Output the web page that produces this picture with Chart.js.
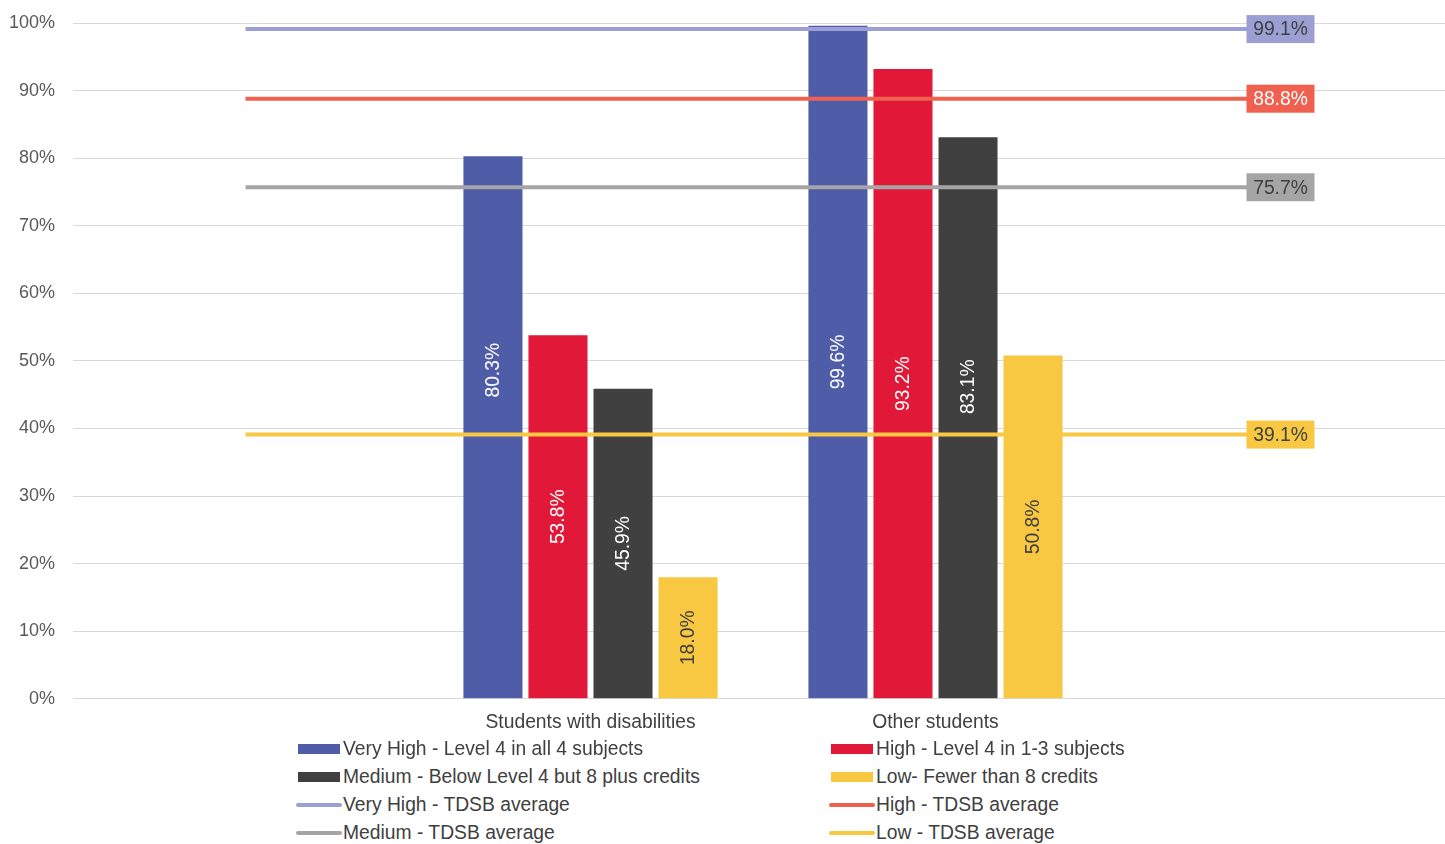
<!DOCTYPE html>
<html>
<head>
<meta charset="utf-8">
<script src="https://cdn.jsdelivr.net/npm/chart.js@4.4.1/dist/chart.umd.min.js"></script>
<style>
  html, body { margin: 0; padding: 0; background: #fff; overflow: hidden; }
  #wrap { position: relative; width: 1460px; height: 844px; }
  #achievementChart { position: absolute; left: 0; top: 0; }
  .legend-item { position: absolute; height: 20px; display: flex; align-items: center;
    font: 19.3px "Liberation Sans", Arial, sans-serif; color: #404040; white-space: nowrap; }
  .legend-item .sw { display: inline-block; margin-right: 3px; }
</style>
</head>
<body>
<div id="wrap">
  <canvas id="achievementChart" width="1453" height="746"></canvas>
  <div id="legend"></div>
</div>
<script>
// categories (outer two are empty so the average lines run past the bar groups)
const categories = ['', 'Students with disabilities', 'Other students', ''];

// bar series (percent)
const veryHigh = [null, 80.3, 99.6, null];
const high = [null, 53.8, 93.2, null];
const medium = [null, 45.9, 83.1, null];
const low = [null, 18.0, 50.8, null];

// TDSB averages (percent)
const veryHighAvg = [99.1, 99.1, 99.1, 99.1];
const highAvg = [88.8, 88.8, 88.8, 88.8];
const mediumAvg = [75.7, 75.7, 75.7, 75.7];
const lowAvg = [39.1, 39.1, 39.1, 39.1];

const yTicks = [0, 10, 20, 30, 40, 50, 60, 70, 80, 90, 100];

const FONT = '"Liberation Sans", Arial, sans-serif';

const barColors = ['#4F5CA8', '#E11837', '#404040', '#F8C842'];
const lineColors = ['#9C9FD4', '#F0604E', '#A5A5A5', '#F8C842'];

function barSet(label, data, color) {
  return {
    type: 'bar', label, data, backgroundColor: color, order: 1,
    categoryPercentage: 0.754, barPercentage: 0.908
  };
}
function lineSet(label, data, color) {
  return {
    type: 'line', label, data, borderColor: color, backgroundColor: color,
    borderWidth: 4, pointRadius: 0, order: 0
  };
}

// label nudges for the two bar labels that were moved off the average line
const labelNudge = { '0-1': -57, '2-2': -31 };

const valueLabels = {
  id: 'valueLabels',
  afterDatasetsDraw(chart) {
    const ctx = chart.ctx;
    ctx.save();
    ctx.font = '19.3px ' + FONT;
    ctx.textAlign = 'center';
    ctx.textBaseline = 'middle';
    chart.data.datasets.forEach((ds, di) => {
      const meta = chart.getDatasetMeta(di);
      if (ds.type === 'bar') {
        meta.data.forEach((el, i) => {
          const v = ds.data[i];
          if (v == null) return;
          const cy = (el.y + el.base) / 2 + (labelNudge[di + '-' + i] || 0);
          ctx.save();
          ctx.translate(el.x, cy);
          ctx.rotate(-Math.PI / 2);
          ctx.fillStyle = di === 3 ? '#404040' : '#ffffff';
          ctx.fillText(v.toFixed(1) + '%', 0, 1);
          ctx.restore();
        });
      } else {
        const last = meta.data.length - 1;
        const el = meta.data[last];
        const w = 68, h = 28;
        ctx.fillStyle = ds.borderColor;
        ctx.fillRect(el.x - w / 2, el.y - h / 2, w, h);
        ctx.fillStyle = di === 5 ? '#ffffff' : '#404040';
        ctx.fillText(ds.data[last].toFixed(1) + '%', el.x, el.y + 1);
      }
    });
    ctx.restore();
  }
};

const chart = new Chart(document.getElementById('achievementChart'), {
  data: {
    labels: categories,
    datasets: [
      barSet('Very High - Level 4 in all 4 subjects', veryHigh, barColors[0]),
      barSet('High - Level 4 in 1-3 subjects', high, barColors[1]),
      barSet('Medium - Below Level 4 but 8 plus credits', medium, barColors[2]),
      barSet('Low- Fewer than 8 credits', low, barColors[3]),
      lineSet('Very High - TDSB average', veryHighAvg, lineColors[0]),
      lineSet('High - TDSB average', highAvg, lineColors[1]),
      lineSet('Medium - TDSB average', mediumAvg, lineColors[2]),
      lineSet('Low - TDSB average', lowAvg, lineColors[3])
    ]
  },
  options: {
    responsive: false,
    animation: false,
    layout: { padding: { top: 23, right: 0, bottom: 0, left: 0 } },
    plugins: {
      legend: { display: false },
      tooltip: { enabled: false }
    },
    scales: {
      x: {
        grid: { display: false, drawTicks: false },
        border: { display: false },
        ticks: { color: '#404040', font: { family: FONT, size: 19.3 }, padding: 12, maxRotation: 0 }
      },
      y: {
        min: 0, max: 100,
        afterBuildTicks: (scale) => { scale.ticks = yTicks.map(v => ({ value: v })); },
        afterFit: (scale) => {
          scale.width = 73;
          scale.paddingTop = 0;
          scale.paddingBottom = 0;
        },
        grid: { color: '#D9D9D9', lineWidth: 1, drawTicks: false },
        border: { display: false },
        ticks: {
          color: '#595959', font: { family: FONT, size: 18 }, padding: 18,
          callback: v => v + '%'
        }
      }
    }
  },
  plugins: [valueLabels]
});

// two-column legend below the chart, built from the datasets
const legendEl = document.getElementById('legend');
const colX = [296, 829];
const rowY = [739, 767, 795, 823];
chart.data.datasets.forEach((ds, i) => {
  const item = document.createElement('div');
  item.className = 'legend-item';
  item.style.left = colX[i % 2] + 'px';
  item.style.top = rowY[Math.floor(i / 2)] + 'px';
  const sw = document.createElement('span');
  sw.className = 'sw';
  if (ds.type === 'bar') {
    sw.style.cssText = 'width:42px;height:10px;margin-left:2px;background:' + ds.backgroundColor;
  } else {
    sw.style.cssText = 'width:46px;height:4px;border-radius:2px;margin-right:1px;background:' + ds.borderColor;
  }
  item.appendChild(sw);
  item.appendChild(document.createTextNode(ds.label));
  legendEl.appendChild(item);
});
</script>
</body>
</html>
